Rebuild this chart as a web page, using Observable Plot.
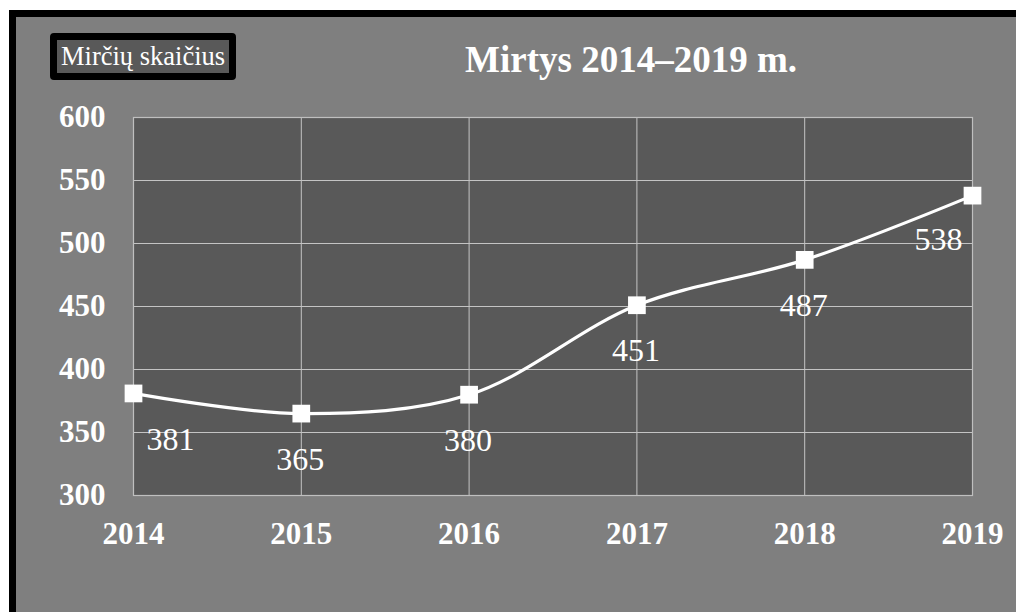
<!DOCTYPE html>
<html>
<head>
<meta charset="utf-8">
<script src="https://cdn.jsdelivr.net/npm/d3@7"></script>
<script src="https://cdn.jsdelivr.net/npm/@observablehq/plot@0.6"></script>
<style>
  html, body { margin: 0; padding: 0; background: #ffffff; overflow: hidden; }
  #wrap { position: relative; width: 1016px; height: 612px; overflow: hidden; background: #ffffff; }
  #frame { position: absolute; left: 9px; top: 10px; width: 1100px; height: 700px;
           border-left: 7px solid #000; border-top: 7px solid #000; background: #7f7f7f; }
  #chart { position: absolute; left: 0; top: 0; }
  #title { position: absolute; left: 631px; top: 41px; transform: translateX(-50%);
           font: bold 37px "Liberation Serif", "Times New Roman", serif; line-height: 37px;
           color: #ffffff; white-space: nowrap; }
  #ylab { position: absolute; left: 50px; top: 33px; width: 172px; height: 33px;
          border: 7px solid #000; border-radius: 4px; background: #595959;
          font: 26.5px "Liberation Serif", "Times New Roman", serif; line-height: 33px;
          color: #ffffff; white-space: nowrap; box-sizing: content-box; }
  #ylab span { position: relative; left: 4px; }
  #chart svg text { font-family: "Liberation Serif", "Times New Roman", serif; }
</style>
</head>
<body>
<div id="wrap">
  <div id="frame"></div>
  <div id="chart"></div>
  <div id="title">Mirtys 2014–2019 m.</div>
  <div id="ylab"><span>Mirčių skaičius</span></div>
</div>
<script>
const years = [2014, 2015, 2016, 2017, 2018, 2019];
const deaths = [381, 365, 380, 451, 487, 538];
const yTicks = [300, 350, 400, 450, 500, 550, 600];

const data = years.map((year, i) => ({year, deaths: deaths[i]}));
const first = data.slice(0, 1);
const middle = data.slice(1, -1);
const last = data.slice(-1);

const font = '"Liberation Serif", "Times New Roman", serif';
const gridColor = "#c4c4c4";

const chart = Plot.plot({
  width: 1016,
  height: 612,
  marginLeft: 133,
  marginRight: 44,
  marginTop: 117,
  marginBottom: 117,
  style: {background: "transparent", fontFamily: font, color: "#ffffff"},
  x: {type: "linear", domain: [2014, 2019]},
  y: {domain: [300, 600]},
  marks: [
    Plot.frame({fill: "#595959", stroke: null}),
    Plot.ruleY(yTicks, {stroke: gridColor, strokeWidth: 1}),
    Plot.ruleX(years, {stroke: gridColor, strokeWidth: 1}),
    Plot.frame({stroke: "#bfbfbf", strokeWidth: 1.2}),
    Plot.axisX({ticks: years, tickFormat: d => String(d), tickSize: 0, tickPadding: 26,
                fontSize: 31, fontWeight: "bold", fontFamily: font, fill: "#ffffff", label: null}),
    Plot.axisY({ticks: yTicks, tickSize: 0, tickPadding: 28,
                fontSize: 31, fontWeight: "bold", fontFamily: font, fill: "#ffffff", label: null}),
    Plot.line(data, {x: "year", y: "deaths", curve: "catmull-rom", stroke: "#ffffff", strokeWidth: 3.2}),
    Plot.dot(data, {x: "year", y: "deaths", symbol: "square", r: 10, fill: "#ffffff", stroke: null}),
    Plot.text(first, {x: "year", y: "deaths", text: d => String(d.deaths), dy: 46, dx: 13,
                      textAnchor: "start", fontSize: 32, fontFamily: font, fill: "#ffffff"}),
    Plot.text(middle, {x: "year", y: "deaths", text: d => String(d.deaths), dy: 46, dx: -1,
                       fontSize: 32, fontFamily: font, fill: "#ffffff"}),
    Plot.text(last, {x: "year", y: "deaths", text: d => String(d.deaths), dy: 44, dx: -10,
                     textAnchor: "end", fontSize: 32, fontFamily: font, fill: "#ffffff"})
  ]
});
document.getElementById("chart").appendChild(chart);
</script>
</body>
</html>
